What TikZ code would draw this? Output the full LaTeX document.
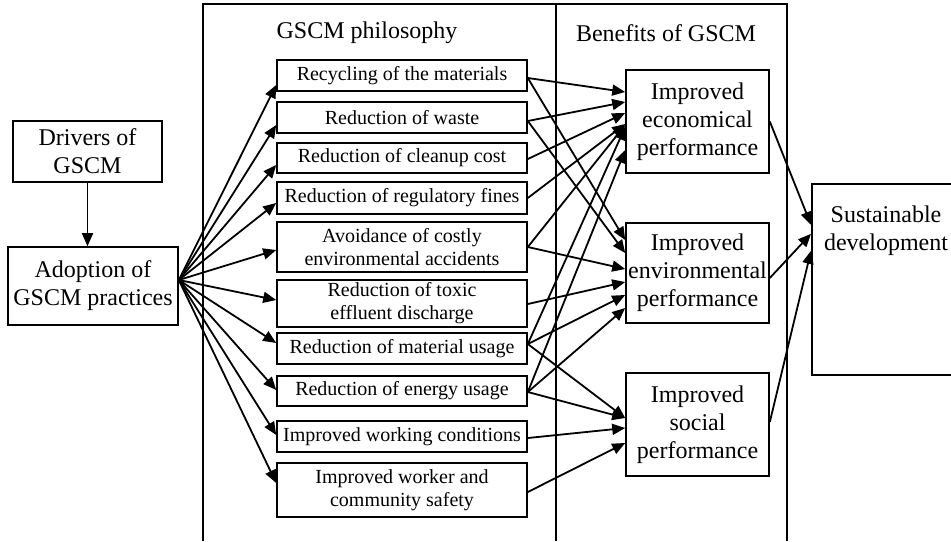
\documentclass[tikz,border=0pt]{standalone}
\usepackage{fontspec}
\setmainfont{Liberation Serif}
\usetikzlibrary{arrows.meta,calc}
\begin{document}
\begin{tikzpicture}[x=0.5pt,y=-0.5pt,
  frame/.style={line width=0.65pt},
  smallbox/.style={draw,line width=0.8pt,minimum width=125pt,inner sep=0pt,align=center,
    font=\fontsize{10}{11.5}\selectfont},
  bigbox/.style={draw,line width=0.8pt,inner sep=0pt,align=center,
    font=\fontsize{12}{14}\selectfont},
  heading/.style={anchor=base,font=\fontsize{12}{14}\selectfont},
  arr/.style={line width=0.9pt,-{Triangle[length=6.5pt,width=5.5pt]}}
]
\useasboundingbox (0,0) rectangle (951,541);

% column frames
\draw[frame] (203,541) -- (203,4) -- (787,4) -- (787,541);
\draw[frame] (556,4) -- (556,541);
\node[heading] (hphil) at (367,38) {GSCM philosophy};
\node[heading] (hben) at (666,41) {Benefits of GSCM};

% left side
\node[bigbox,minimum width=74.5pt,minimum height=30.5pt] (drv) at (87.5,151.5) {Drivers of\\GSCM};
\node[bigbox,minimum width=85pt,minimum height=39pt] (adopt) at (93,286) {Adoption of\\GSCM practices};
\coordinate (hub) at ($(adopt.east)+(0,-6)$);
\draw[arr] (drv.south) -- (drv.south |- adopt.north);

% GSCM philosophy boxes
\node[smallbox,minimum height=15.5pt] (b1) at (402,75.5) {Recycling of the materials};
\node[smallbox,minimum height=15.5pt] (b2) at (402,117.5) {Reduction of waste};
\node[smallbox,minimum height=15pt] (b3) at (402,158) {Reduction of cleanup cost};
\node[smallbox,minimum height=16pt] (b4) at (402,198) {Reduction of regulatory fines};
\node[smallbox,minimum height=25pt] (b5) at (402,247) {Avoidance of costly\\environmental accidents};
\node[smallbox,minimum height=23.5pt] (b6) at (402,303.5) {Reduction of toxic\\effluent discharge};
\node[smallbox,minimum height=15.5pt] (b7) at (402,348.5) {Reduction of material usage};
\node[smallbox,minimum height=15pt] (b8) at (402,391) {Reduction of energy usage};
\node[smallbox,minimum height=15.5pt] (b9) at (402,436.5) {Improved working conditions};
\node[smallbox,minimum height=27pt] (b10) at (402,490) {Improved worker and\\community safety};

% benefit boxes
\node[bigbox,minimum width=71.5pt,minimum height=51.5pt] (econ) at (697.5,121.5) {Improved\\economical\\performance};
\node[bigbox,minimum width=71.5pt,minimum height=50pt] (env) at (697.5,273) {Improved\\environmental\\performance};
\node[bigbox,minimum width=71.5pt,minimum height=51.5pt] (soc) at (697.5,424.5) {Improved\\social\\performance};

% sustainable development
\node[draw,line width=0.8pt,anchor=north west,minimum width=80pt,minimum height=95.5pt,inner sep=0pt] (sust) at (811,183) {};
\node[bigbox,draw=none] (sustlabel) at (886,231) {Sustainable\\development};

% adoption -> philosophy
\draw[arr] (hub) -- ($(b1.west)+(0,9.5)$);
\draw[arr] (hub) -- ($(b2.west)+(0,7.5)$);
\draw[arr] (hub) -- ($(b3.west)+(0,7)$);
\draw[arr] (hub) -- ($(b4.west)+(0,5)$);
\draw[arr] (hub) -- ($(b5.west)+(0,3)$);
\draw[arr] (hub) -- ($(b6.west)+(0,-3.5)$);
\draw[arr] (hub) -- ($(b7.west)+(0,-5.5)$);
\draw[arr] (hub) -- ($(b8.west)+(0,-1)$);
\draw[arr] (hub) -- ($(b9.west)+(0,-1.5)$);
\draw[arr] (hub) -- ($(b10.west)+(0,-7)$);

% philosophy -> economical
\draw[arr] ($(b1.east)+(0,2.5)$) -- ($(econ.west)+(0,-29.5)$);
\draw[arr] ($(b2.east)+(0,3.5)$) -- ($(econ.west)+(0,-19.5)$);
\draw[arr] ($(b3.east)+(0,1)$) -- ($(econ.west)+(0,-8.5)$);
\draw[arr] (b4.east) -- ($(econ.west)+(0,2.5)$);
\draw[arr] (b5.east) -- ($(econ.west)+(0,3.5)$);
\draw[arr] ($(b7.east)+(0,-4.5)$) -- ($(econ.west)+(0,5.5)$);
\draw[arr] ($(b8.east)+(0,1)$) -- ($(econ.west)+(0,28.5)$);

% philosophy -> environmental
\draw[arr] ($(b1.east)+(0,2.5)$) -- ($(env.west)+(0,-33)$);
\draw[arr] ($(b2.east)+(0,3.5)$) -- ($(env.west)+(0,-20)$);
\draw[arr] (b5.east) -- ($(env.west)+(0,-4)$);
\draw[arr] ($(b6.east)+(0,0.5)$) -- ($(env.west)+(0,9)$);
\draw[arr] ($(b7.east)+(0,-4.5)$) -- ($(env.west)+(0,22)$);
\draw[arr] ($(b8.east)+(0,1)$) -- ($(env.west)+(0,35)$);

% philosophy -> social
\draw[arr] ($(b7.east)+(0,-4.5)$) -- ($(soc.west)+(0,-6.5)$);
\draw[arr] ($(b8.east)+(0,1)$) -- ($(soc.west)+(0,-6.5)$);
\draw[arr] ($(b9.east)+(0,1.5)$) -- ($(soc.west)+(0,3.5)$);
\draw[arr] ($(b10.east)+(0,2)$) -- ($(soc.west)+(0,18.5)$);

% benefits -> sustainable development
\draw[arr] (econ.east) -- ($(sust.west)+(0,-54.5)$);
\draw[arr] ($(env.east)+(0,5)$) -- ($(sust.west)+(0,-45.5)$);
\draw[arr] ($(soc.east)+(0,-2.5)$) -- ($(sust.west)+(0,-28.5)$);
\end{tikzpicture}
\end{document}
